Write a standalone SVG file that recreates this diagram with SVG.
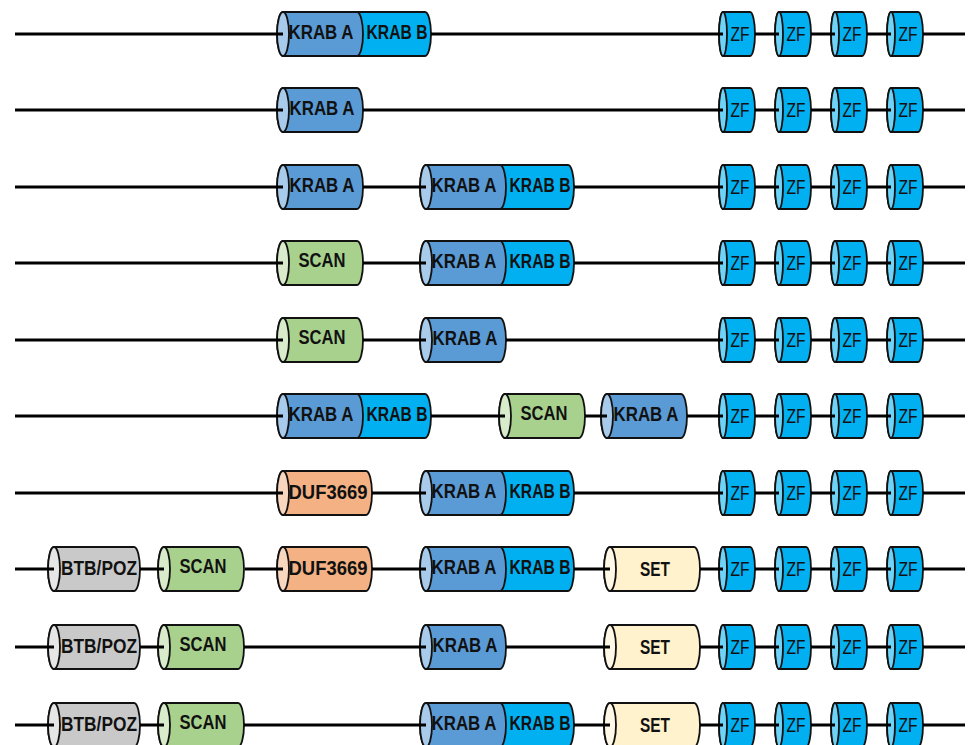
<svg xmlns="http://www.w3.org/2000/svg" xmlns:xlink="http://www.w3.org/1999/xlink" width="968" height="745" viewBox="0 0 968 745">
<style>
.bd{stroke:#111;stroke-width:1.8;stroke-linejoin:round}
.ka{fill:#5B9BD5}.kac{fill:#A9CBEB}
.kb{fill:#00B0F0}
.zf{fill:#00B0F0}.zfc{fill:#6FD3F7}
.sc{fill:#A9D18E}.scc{fill:#D8EBCB}
.du{fill:#F4B183}.duc{fill:#F9D6BE}
.bt{fill:#C9C9C9}.btc{fill:#E6E6E6}
.se{fill:#FFF2CC}.sec{fill:#FFF8E6}
.lb{font-family:"Liberation Sans",Arial,sans-serif;font-weight:bold;font-size:20px;fill:#111;text-anchor:middle}
.zt{font-family:"Liberation Sans",Arial,sans-serif;font-size:20px;fill:#111;text-anchor:middle}
.cn{fill:none;stroke:#000;stroke-width:3.2}
</style>
<defs>
<ellipse id="cap" cx="6" cy="0" rx="6" ry="22" class="bd"/>
<ellipse id="zcap" cx="4" cy="0" rx="4" ry="22" class="bd"/>
<path id="b86" class="bd" d="M6 -22H80A6 22 0 0 1 80 22H6A6 22 0 0 1 6 -22Z"/>
<path id="b95" class="bd" d="M6 -22H89A6 22 0 0 1 89 22H6A6 22 0 0 1 6 -22Z"/>
<path id="b92" class="bd" d="M6 -22H86A6 22 0 0 1 86 22H6A6 22 0 0 1 6 -22Z"/>
<path id="b96" class="bd" d="M6 -22H90A6 22 0 0 1 90 22H6A6 22 0 0 1 6 -22Z"/>
<path id="b36" class="bd" d="M4 -22H31A5 22 0 0 1 31 22H4A4 22 0 0 1 4 -22Z"/>
<path id="kbr" class="bd" d="M74 -22H148A6 22 0 0 1 148 22H74Z"/>
<path id="kal" class="bd" d="M6 -22H80A6 22 0 0 1 80 22H6A6 22 0 0 1 6 -22Z"/>
<g id="zf">
<use xlink:href="#b36" class="zf"/><use xlink:href="#zcap" class="zfc"/>
<text x="21" y="7" class="zt" textLength="19" lengthAdjust="spacingAndGlyphs">ZF</text>
</g>
<g id="zfs">
<use xlink:href="#zf" x="719"/><use xlink:href="#zf" x="775"/><use xlink:href="#zf" x="831"/><use xlink:href="#zf" x="887"/>
</g>
<g id="kab">
<use xlink:href="#kbr" class="kb"/><use xlink:href="#kal" class="ka"/><use xlink:href="#cap" class="kac"/>
<text x="44" y="5" class="lb" textLength="65" lengthAdjust="spacingAndGlyphs">KRAB A</text>
<text x="120" y="5" class="lb" textLength="61" lengthAdjust="spacingAndGlyphs">KRAB B</text>
</g>
<g id="ka">
<use xlink:href="#b86" class="ka"/><use xlink:href="#cap" class="kac"/>
<text x="45" y="5" class="lb" textLength="65" lengthAdjust="spacingAndGlyphs">KRAB A</text>
</g>
<g id="scan">
<use xlink:href="#b86" class="sc"/><use xlink:href="#cap" class="scc"/>
<text x="45" y="4" class="lb" textLength="47" lengthAdjust="spacingAndGlyphs">SCAN</text>
</g>
<g id="duf">
<use xlink:href="#b95" class="du"/><use xlink:href="#cap" class="duc"/>
<text x="51" y="6" class="lb" textLength="79" lengthAdjust="spacingAndGlyphs">DUF3669</text>
</g>
<g id="btb">
<use xlink:href="#b92" class="bt"/><use xlink:href="#cap" class="btc"/>
<text x="51" y="6" class="lb" textLength="76" lengthAdjust="spacingAndGlyphs">BTB/POZ</text>
</g>
<g id="set">
<use xlink:href="#b96" class="se"/><use xlink:href="#cap" class="sec"/>
<text x="51" y="7" class="lb" textLength="30" lengthAdjust="spacingAndGlyphs">SET</text>
</g>
</defs>
<rect width="968" height="745" fill="#fff"/>
<g id="nodes">
<g id="row1" transform="translate(0 34)">
<use id="r1-krabab" xlink:href="#kab" x="277"/>
<use id="r1-zf" xlink:href="#zfs"/>
</g>
<g id="row2" transform="translate(0 110)">
<use id="r2-kraba" xlink:href="#ka" x="277"/>
<use id="r2-zf" xlink:href="#zfs"/>
</g>
<g id="row3" transform="translate(0 187)">
<use id="r3-kraba" xlink:href="#ka" x="277"/>
<use id="r3-krabab" xlink:href="#kab" x="420"/>
<use id="r3-zf" xlink:href="#zfs"/>
</g>
<g id="row4" transform="translate(0 263)">
<use id="r4-scan" xlink:href="#scan" x="277"/>
<use id="r4-krabab" xlink:href="#kab" x="420"/>
<use id="r4-zf" xlink:href="#zfs"/>
</g>
<g id="row5" transform="translate(0 340)">
<use id="r5-scan" xlink:href="#scan" x="277"/>
<use id="r5-kraba" xlink:href="#ka" x="420"/>
<use id="r5-zf" xlink:href="#zfs"/>
</g>
<g id="row6" transform="translate(0 416)">
<use id="r6-krabab" xlink:href="#kab" x="277"/>
<use id="r6-scan" xlink:href="#scan" x="499"/>
<use id="r6-kraba" xlink:href="#ka" x="601"/>
<use id="r6-zf" xlink:href="#zfs"/>
</g>
<g id="row7" transform="translate(0 493)">
<use id="r7-duf" xlink:href="#duf" x="277"/>
<use id="r7-krabab" xlink:href="#kab" x="420"/>
<use id="r7-zf" xlink:href="#zfs"/>
</g>
<g id="row8" transform="translate(0 569)">
<use id="r8-btb" xlink:href="#btb" x="48"/>
<use id="r8-scan" xlink:href="#scan" x="158"/>
<use id="r8-duf" xlink:href="#duf" x="277"/>
<use id="r8-krabab" xlink:href="#kab" x="420"/>
<use id="r8-set" xlink:href="#set" x="604"/>
<use id="r8-zf" xlink:href="#zfs"/>
</g>
<g id="row9" transform="translate(0 647)">
<use id="r9-btb" xlink:href="#btb" x="48"/>
<use id="r9-scan" xlink:href="#scan" x="158"/>
<use id="r9-kraba" xlink:href="#ka" x="420"/>
<use id="r9-set" xlink:href="#set" x="604"/>
<use id="r9-zf" xlink:href="#zfs"/>
</g>
<g id="row10" transform="translate(0 725)">
<use id="r10-btb" xlink:href="#btb" x="48"/>
<use id="r10-scan" xlink:href="#scan" x="158"/>
<use id="r10-krabab" xlink:href="#kab" x="420"/>
<use id="r10-set" xlink:href="#set" x="604"/>
<use id="r10-zf" xlink:href="#zfs"/>
</g>
</g>
<g id="connectors" class="cn">
<path d="M15 34H283M431 34H723M755 34H779M811 34H835M867 34H891M923 34H965"/>
<path d="M15 110H283M363 110H723M755 110H779M811 110H835M867 110H891M923 110H965"/>
<path d="M15 187H283M363 187H426M574 187H723M755 187H779M811 187H835M867 187H891M923 187H965"/>
<path d="M15 263H283M363 263H426M574 263H723M755 263H779M811 263H835M867 263H891M923 263H965"/>
<path d="M15 340H283M363 340H426M506 340H723M755 340H779M811 340H835M867 340H891M923 340H965"/>
<path d="M15 416H283M431 416H505M585 416H607M687 416H723M755 416H779M811 416H835M867 416H891M923 416H965"/>
<path d="M15 493H283M372 493H426M574 493H723M755 493H779M811 493H835M867 493H891M923 493H965"/>
<path d="M15 569H54M140 569H164M245 569H283M372 569H426M574 569H610M700 569H723M755 569H779M811 569H835M867 569H891M923 569H965"/>
<path d="M15 647H54M140 647H164M244 647H426M506 647H610M700 647H723M755 647H779M811 647H835M867 647H891M923 647H965"/>
<path d="M15 725H54M140 725H164M244 725H426M574 725H610M700 725H723M755 725H779M811 725H835M867 725H891M923 725H965"/>
</g>
</svg>
